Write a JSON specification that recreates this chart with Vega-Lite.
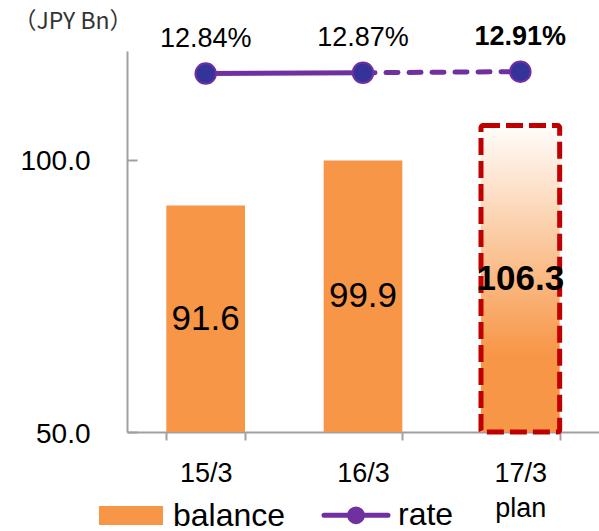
{
  "$schema": "https://vega.github.io/schema/vega-lite/v6.json",
  "autosize": {"type": "none"},
  "padding": {"left": 127, "top": 51, "right": 0, "bottom": 99},
  "width": 472,
  "height": 381,
  "background": "white",
  "config": {
    "view": {"stroke": null},
    "font": "Liberation Sans",
    "style": {"guide-label": {"lineBreak": "\n"}}
  },
  "data": {
    "values": [
      {"period": "15/3", "balance": 91.6, "rate": 0.1284},
      {"period": "16/3", "balance": 99.9, "rate": 0.1287},
      {"period": "17/3", "balance": 106.3, "rate": 0.1291}
    ]
  },
  "encoding": {
    "x": {
      "field": "period",
      "type": "nominal",
      "sort": ["15/3", "16/3", "17/3"],
      "scale": {"paddingInner": 0.5, "paddingOuter": 0.25},
      "axis": {
        "title": null,
        "labelAngle": 0,
        "labelFont": "Liberation Sans",
        "labelFontSize": 27,
        "labelColor": "#000000",
        "labelPadding": 20,
        "labelBaseline": "top",
        "labelLineHeight": 35,
        "labelExpr": "datum.value == '17/3' ? '17/3\\nplan' : datum.value",
        "tickSize": 8,
        "tickColor": "#a0a0a0",
        "tickWidth": 2,
        "tickBand": "extent",
        "domainColor": "#a0a0a0",
        "domainWidth": 2
      }
    }
  },
  "layer": [
    {
      "encoding": {
        "y": {
          "field": "balance",
          "type": "quantitative",
          "scale": {"domain": [50, 120], "nice": false, "zero": false},
          "axis": {
            "values": [50, 100],
            "format": ".1f",
            "grid": false,
            "title": "（JPY Bn）",
            "titleAngle": 0,
            "titleX": -114,
            "titleY": -30,
            "titleAlign": "left",
            "titleBaseline": "middle",
            "titleFont": "Noto Sans CJK JP",
            "titleFontSize": 23,
            "titleFontWeight": "normal",
            "titleColor": "#333333",
            "labelFont": "Liberation Sans",
            "labelFontSize": 28,
            "labelColor": "#000000",
            "labelPadding": 47,
            "labelOffset": 2,
            "tickSize": -10,
            "tickColor": "#a0a0a0",
            "tickWidth": 2,
            "domainColor": "#a0a0a0",
            "domainWidth": 2
          }
        }
      },
      "layer": [
        {
          "transform": [{"filter": "datum.period !== '17/3'"}],
          "mark": {"type": "bar", "width": {"band": 1}},
          "encoding": {
            "y2": {"datum": 50},
            "color": {
              "datum": "balance",
              "type": "nominal",
              "scale": {"domain": ["balance", "rate"], "range": ["#F79646", "#7030A0"]},
              "legend": {
                "title": null,
                "orient": "none",
                "legendX": -12,
                "legendY": 448,
                "direction": "horizontal",
                "padding": 0,
                "symbolSize": 4096,
                "symbolStrokeWidth": 0,
                "labelFont": "Liberation Sans",
                "labelFontSize": 32,
                "labelColor": "#000000",
                "labelOffset": 26,
                "labelLimit": 300,
                "columnPadding": 28,
                "encode": {
                  "symbols": {
                    "update": {
                      "shape": {"signal": "datum.value === 'balance' ? 'M-1,-0.3H1V0.3H-1Z' : 'M-1,0H1M-0.2,0A0.2,0.2 0 1 0 0.2,0A0.2,0.2 0 1 0 -0.2,0Z'"},
                      "fill": {"signal": "datum.value === 'balance' ? '#F79646' : '#333399'"},
                      "stroke": {"signal": "datum.value === 'balance' ? '#F79646' : '#7030A0'"},
                      "strokeWidth": {"signal": "datum.value === 'balance' ? 0 : 5"},
                      "strokeCap": {"value": "round"},
                      "opacity": {"value": 1},
                      "fillOpacity": {"value": 1}
                    }
                  }
                }
              }
            }
          }
        },
        {
          "transform": [{"filter": "datum.period === '17/3'"}],
          "mark": {
            "type": "bar",
            "fill": {
              "gradient": "linear",
              "x1": 0, "y1": 0, "x2": 0, "y2": 1,
              "stops": [
                {"offset": 0, "color": "#FFFDFB"},
                {"offset": 0.75, "color": "#F79646"},
                {"offset": 1, "color": "#F79646"}
              ]
            },
            "stroke": "#C00000",
            "strokeWidth": 5,
            "strokeDash": [17, 6],
            "cornerRadius": 2
          },
          "encoding": {"y2": {"datum": 50}}
        },
        {
          "transform": [
            {"calculate": "(datum.balance + 50) / 2", "as": "labelY"},
            {"filter": "datum.period !== '17/3'"}
          ],
          "mark": {"type": "text", "fontSize": 35, "color": "#000000", "baseline": "middle"},
          "encoding": {
            "y": {"field": "labelY", "type": "quantitative"},
            "text": {"field": "balance", "type": "quantitative", "format": ".1f"}
          }
        },
        {
          "transform": [
            {"calculate": "(datum.balance + 50) / 2", "as": "labelY"},
            {"filter": "datum.period === '17/3'"}
          ],
          "mark": {"type": "text", "fontSize": 35, "fontWeight": "bold", "color": "#000000", "baseline": "middle"},
          "encoding": {
            "y": {"field": "labelY", "type": "quantitative"},
            "text": {"field": "balance", "type": "quantitative", "format": ".1f"}
          }
        }
      ]
    },
    {
      "encoding": {
        "y": {
          "field": "rate",
          "type": "quantitative",
          "scale": {"domain": [0, 0.1365], "nice": false},
          "axis": null
        }
      },
      "layer": [
        {
          "transform": [{"filter": "datum.period !== '17/3'"}],
          "mark": {"type": "line", "strokeWidth": 5, "strokeCap": "round"},
          "encoding": {"color": {"datum": "rate", "type": "nominal"}}
        },
        {
          "transform": [{"filter": "datum.period !== '15/3'"}],
          "mark": {"type": "line", "strokeWidth": 5, "strokeCap": "round", "strokeDash": [12, 11]},
          "encoding": {"color": {"datum": "rate", "type": "nominal"}}
        },
        {
          "mark": {"type": "point", "shape": "circle", "filled": true, "fill": "#333399", "stroke": "#7030A0", "strokeWidth": 2, "size": 420, "opacity": 1}
        },
        {
          "transform": [{"filter": "datum.period !== '17/3'"}],
          "mark": {"type": "text", "fontSize": 27, "dy": -35, "color": "#000000", "baseline": "middle"},
          "encoding": {"text": {"field": "rate", "type": "quantitative", "format": ".2%"}}
        },
        {
          "transform": [{"filter": "datum.period === '17/3'"}],
          "mark": {"type": "text", "fontSize": 27, "fontWeight": "bold", "dy": -35, "color": "#000000", "baseline": "middle"},
          "encoding": {"text": {"field": "rate", "type": "quantitative", "format": ".2%"}}
        }
      ]
    }
  ],
  "resolve": {"scale": {"y": "independent"}}
}
